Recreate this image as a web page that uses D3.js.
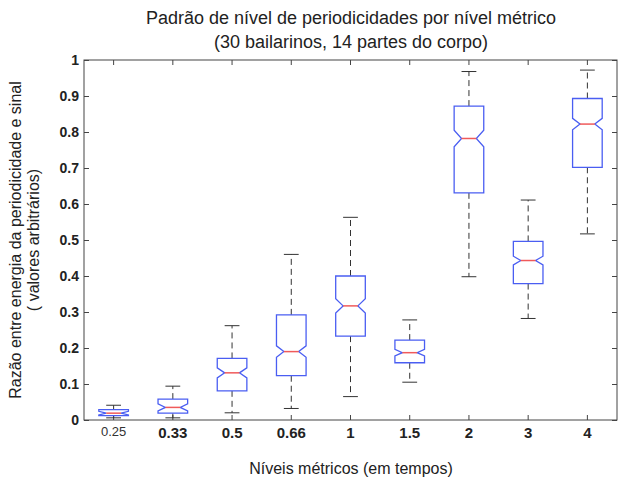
<!DOCTYPE html>
<html>
<head>
<meta charset="utf-8">
<script src="https://cdn.jsdelivr.net/npm/d3@7"></script>
<style>
  body { margin: 0; background: #fff; }
  text { font-family: "Liberation Sans", Arial, Helvetica, sans-serif; fill: #222; }
</style>
</head>
<body>
<div id="chart"></div>
<script>
// Metric levels (x categories)
const levels = ['0.25', '0.33', '0.5', '0.66', '1', '1.5', '2', '3', '4'];

// Box statistics
const whiskerLow  = [0.006, 0.006, 0.020, 0.032, 0.065, 0.105, 0.398, 0.282, 0.517];
const q1          = [0.012, 0.019, 0.081, 0.123, 0.233, 0.159, 0.631, 0.379, 0.702];
const medians     = [0.019, 0.035, 0.131, 0.190, 0.317, 0.187, 0.782, 0.443, 0.822];
const q3          = [0.029, 0.058, 0.171, 0.292, 0.400, 0.222, 0.872, 0.496, 0.893];
const whiskerHigh = [0.041, 0.094, 0.262, 0.460, 0.563, 0.278, 0.968, 0.611, 0.972];
const notchHalf   = [0.005, 0.010, 0.014, 0.016, 0.020, 0.009, 0.023, 0.012, 0.016];

const yTicks = [0, 0.1, 0.2, 0.3, 0.4, 0.5, 0.6, 0.7, 0.8, 0.9, 1];

const width = 618, height = 481;
const margin = { top: 60, right: 1, bottom: 61, left: 84 };

const svg = d3.select('#chart')
    .append('svg')
    .attr('width', width)
    .attr('height', height);

const x = d3.scaleBand()
    .domain(levels)
    .range([margin.left, width - margin.right])
    .padding(0);

const y = d3.scaleLinear()
    .domain([0, 1])
    .range([height - margin.bottom, margin.top]);

const boxHalf = x.bandwidth() * 0.25;
const capHalf = boxHalf / 2;
const notchInset = boxHalf / 2;

const data = levels.map((l, i) => ({
    level: l,
    lo: whiskerLow[i], q1: q1[i], med: medians[i], q3: q3[i], hi: whiskerHigh[i], n: notchHalf[i]
}));

// Axes (MATLAB style: ticks inward on all four sides)
const gx = svg.append('g')
    .attr('transform', `translate(0,${y(0)})`)
    .call(d3.axisBottom(x).tickSizeInner(-5).tickSizeOuter(0).tickPadding(7));
gx.select('.domain').remove();
gx.selectAll('text')
    .style('font-size', (d, i) => i === 0 ? '13px' : '15px')
    .style('font-weight', (d, i) => i === 0 ? 'normal' : 'bold')
    .style('fill', (d, i) => i === 0 ? '#333' : '#222');

const gxTop = svg.append('g')
    .attr('transform', `translate(0,${y(1)})`)
    .call(d3.axisTop(x).tickSizeInner(-5).tickSizeOuter(0).tickFormat(''));
gxTop.select('.domain').remove();

const gy = svg.append('g')
    .attr('transform', `translate(${margin.left},0)`)
    .call(d3.axisLeft(y).tickValues(yTicks).tickSizeInner(-5).tickSizeOuter(0).tickPadding(5)
        .tickFormat(d => d3.format('~g')(d)));
gy.select('.domain').remove();
gy.selectAll('text')
    .style('font-size', '14px')
    .style('font-weight', 'bold');

const gyRight = svg.append('g')
    .attr('transform', `translate(${width - margin.right},0)`)
    .call(d3.axisRight(y).tickValues(yTicks).tickSizeInner(-5).tickSizeOuter(0).tickFormat(''));
gyRight.select('.domain').remove();

svg.selectAll('.tick line').attr('stroke', '#444');

// Frame
svg.append('rect')
    .attr('x', margin.left)
    .attr('y', y(1))
    .attr('width', width - margin.right - margin.left)
    .attr('height', y(0) - y(1))
    .attr('fill', 'none')
    .attr('stroke', '#444')
    .attr('stroke-width', 1);

// Boxes
const box = svg.append('g')
    .selectAll('g')
    .data(data)
    .join('g')
    .attr('transform', d => `translate(${x(d.level) + x.bandwidth() / 2},0)`);

// Whiskers
box.append('line')
    .attr('y1', d => y(d.q3)).attr('y2', d => y(d.hi))
    .attr('stroke', '#333').attr('stroke-dasharray', '6,4');
box.append('line')
    .attr('y1', d => y(d.q1)).attr('y2', d => y(d.lo))
    .attr('stroke', '#333').attr('stroke-dasharray', '6,4');

// Caps
box.append('line')
    .attr('x1', -capHalf).attr('x2', capHalf)
    .attr('y1', d => y(d.hi)).attr('y2', d => y(d.hi))
    .attr('stroke', '#333');
box.append('line')
    .attr('x1', -capHalf).attr('x2', capHalf)
    .attr('y1', d => y(d.lo)).attr('y2', d => y(d.lo))
    .attr('stroke', '#333');

// Notched box
box.append('path')
    .attr('d', d => {
        const w = boxHalf, i = notchInset;
        const pts = [
            [-w, y(d.q3)], [w, y(d.q3)],
            [w, y(d.med + d.n)], [w - i, y(d.med)], [w, y(d.med - d.n)],
            [w, y(d.q1)], [-w, y(d.q1)],
            [-w, y(d.med - d.n)], [-w + i, y(d.med)], [-w, y(d.med + d.n)]
        ];
        return d3.line()(pts) + 'Z';
    })
    .attr('fill', '#fff')
    .attr('stroke', '#4a5ef2')
    .attr('stroke-width', 1.3);

// Median
box.append('line')
    .attr('x1', -boxHalf + notchInset).attr('x2', boxHalf - notchInset)
    .attr('y1', d => y(d.med)).attr('y2', d => y(d.med))
    .attr('stroke', '#f05a5a')
    .attr('stroke-width', 1.5);

// Title
const title = svg.append('text')
    .attr('x', 351)
    .attr('text-anchor', 'middle')
    .style('font-size', '18px');
title.append('tspan').attr('x', 351).attr('y', 24)
    .text('Padrão de nível de periodicidades por nível métrico');
title.append('tspan').attr('x', 351).attr('y', 48)
    .text('(30 bailarinos, 14 partes do corpo)');

// X label
svg.append('text')
    .attr('x', 351)
    .attr('y', 474)
    .attr('text-anchor', 'middle')
    .style('font-size', '16px')
    .text('Níveis métricos (em tempos)');

// Y label (two lines)
svg.append('text')
    .attr('transform', 'translate(21,240) rotate(-90)')
    .attr('text-anchor', 'middle')
    .style('font-size', '16px')
    .text('Razão entre energia da periodicidade e sinal');
svg.append('text')
    .attr('transform', 'translate(39,240) rotate(-90)')
    .attr('text-anchor', 'middle')
    .style('font-size', '16px')
    .text('( valores arbitrários)');
</script>
</body>
</html>
